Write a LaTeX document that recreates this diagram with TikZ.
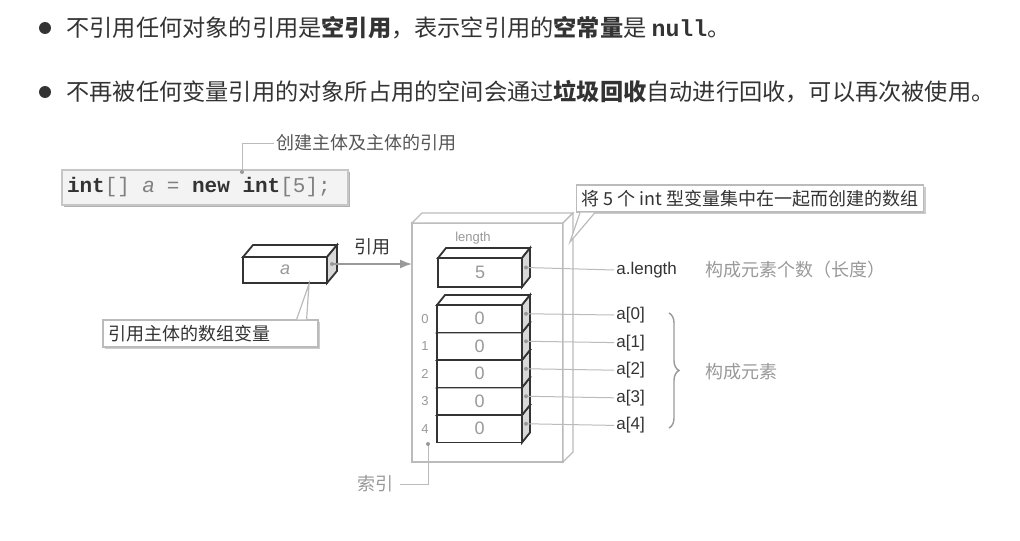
\documentclass[tikz,border=0pt]{standalone}
\usepackage{fontspec}
\setsansfont{Liberation Sans}
\setmonofont{Liberation Mono}
\newfontfamily\cjk{Noto Sans CJK SC}
\usetikzlibrary{arrows.meta,decorations.pathreplacing,shadows}

\definecolor{inkdark}{HTML}{333333}
\definecolor{inkmid}{HTML}{555555}
\definecolor{inkgray}{HTML}{999999}
\definecolor{leadgray}{HTML}{BBBBBB}
\definecolor{sidegray}{HTML}{D8D8D8}
\definecolor{codefill}{HTML}{F3F3F3}

% top and right faces of a box node: node, dx, dy, line style, side fill
\newcommand{\boxfaces}[5]{%
  \draw[#4] (#1.north west) -- ++(#2,-#3) -- ([shift={(#2,-#3)}]#1.north east) -- (#1.north east) -- cycle;
  \draw[#4, fill=#5] (#1.north east) -- ++(#2,-#3) -- ([shift={(#2,-#3)}]#1.south east) -- (#1.south east) -- cycle;
}
\newcommand{\ttsp}{\hspace{0.6em}}

\begin{document}
\begin{tikzpicture}[x=0.5pt, y=-0.5pt,
    boxline/.style={draw=inkdark, line width=0.9pt, fill=white},
    cube/.style={boxline, inner sep=0pt, outer sep=0pt, font=\sffamily\fontsize{9}{10}\selectfont, text=inkgray},
    idx/.style={font=\sffamily\fontsize{6.5}{7}\selectfont, text=inkgray},
    lab/.style={font=\sffamily\fontsize{8.5}{10}\selectfont, text=inkdark, anchor=west, inner sep=1pt},
    note/.style={font=\cjk\fontsize{9}{11}\selectfont, text=inkgray, anchor=west, inner sep=1pt},
    bultext/.style={font=\cjk\fontsize{11.6}{14}\selectfont, text=inkdark, anchor=west, inner sep=0pt},
    callout/.style={draw=leadgray, fill=white, line width=0.6pt, font=\cjk\fontsize{9}{11}\selectfont, text=inkdark, inner sep=2.5pt,
      drop shadow={shadow xshift=1.2pt, shadow yshift=-1.2pt, fill=gray!40, opacity=1}},
    leader/.style={draw=leadgray, line width=0.5pt},
    bullet/.style={circle, fill=inkdark, inner sep=0pt, minimum size=6pt}]
  \useasboundingbox (0,0) rectangle (1020,540);

  % bullet points
  \node[bullet] (b1) at (45,28) {};
  \node[bultext] (t1) at (66,28) {不引用任何对象的引用是\textbf{空引用}，表示空引用的\textbf{空常量}是 {\ttfamily\bfseries null}。};
  \node[bullet] (b2) at (45,92) {};
  \node[bultext] (t2) at (66,92) {不再被任何变量引用的对象所占用的空间会通过\textbf{垃圾回收}自动进行回收，可以再次被使用。};

  % declaration
  \node[draw=gray!45, fill=codefill, line width=0.6pt, minimum width=143pt, minimum height=17.5pt, text width=138pt, align=left, inner sep=2.5pt,
    drop shadow={shadow xshift=1pt, shadow yshift=-1pt, fill=gray!60, opacity=1}] (code) at (205,187.5)
    {\ttfamily\fontsize{10.5}{12}\selectfont\textcolor{inkdark}{\textbf{int}}\textcolor{gray}{[]}\ttsp\textcolor{gray}{\sffamily\itshape a}\ttsp\textcolor{gray}{=}\ttsp\textcolor{inkdark}{\textbf{new}}\ttsp\textcolor{inkdark}{\textbf{int}}\textcolor{gray}{[5];}};
  \coordinate (newdot) at (242,172);
  \node[note, text=inkmid] (mklab) at (274,143) {创建主体及主体的引用};
  \draw[leader] (newdot) |- (mklab.west);
  \fill[inkgray] (newdot) circle (1pt);

  % variable a
  \node[cube, minimum width=42pt, minimum height=13pt] (avar) at (285,270) {\itshape a};
  \boxfaces{avar}{10}{12}{boxline}{sidegray}
  \coordinate (aside) at ([shift={(5,-6)}]avar.east);

  % array object
  \node[draw=leadgray, fill=white, line width=0.6pt, inner sep=0pt, outer sep=0pt, minimum width=75.5pt, minimum height=119.5pt] (arr) at (487.5,342.5) {};
  \boxfaces{arr}{10}{10}{draw=leadgray, line width=0.6pt, fill=white}{white}

  \draw[draw=inkgray, line width=0.8pt, -{Latex[length=6pt,width=4.5pt]}] (aside) -- (aside -| arr.west)
    node[midway, above=1pt, font=\cjk\fontsize{9}{11}\selectfont, text=inkdark] (reflab) {引用};
  \fill[inkgray] (aside) circle (1pt);

  % length field
  \node[idx] (lenlab) at (473,238) {length};
  \node[cube, minimum width=42pt, minimum height=14.5pt] (lenbox) at (480,272.5) {5};
  \boxfaces{lenbox}{8}{10}{boxline}{sidegray}

  % elements, bottom one first
  \foreach \i [evaluate=\i as \yy using 318.75+27.5*\i] in {4,3,2,1,0}{
    \node[cube, minimum width=42.5pt, minimum height=13.75pt] (el\i) at (479.5,\yy) {0};
    \boxfaces{el\i}{8}{10}{boxline}{sidegray}
    \node[idx] (ix\i) at (425,\yy) {\i};
  }

  % names of the fields
  \node[lab] (lenname) at (614,270) {a.length};
  \node[note] (lennote) at (703,270) {构成元素个数（长度）};
  \coordinate (lenside) at ([shift={(4,-5)}]lenbox.east);
  \draw[leader] (lenside) -- (lenname.west);
  \fill[inkgray] (lenside) circle (1pt);
  \foreach \i in {0,...,4}{
    \node[lab] (nm\i) at (614,315+27.6*\i) {a[\i]};
    \coordinate (elside\i) at ([shift={(4,-5)}]el\i.east);
    \draw[leader] (elside\i) -- (nm\i.west);
    \fill[inkgray] (elside\i) circle (1pt);
  }

  % brace
  \coordinate (bt) at (669,313);
  \coordinate (bb) at (669,428);
  \draw[draw=inkgray, line width=0.7pt, decorate, decoration={brace, amplitude=5pt}] (bt) -- (bb);
  \node[note] (elnote) at (703,372) {构成元素};

  % index
  \coordinate (idxdot) at (428,444);
  \node[note, anchor=east, inner sep=3pt] (idxlab) at (400,484) {索引};
  \draw[leader] (idxdot) |- (idxlab.east);
  \fill[inkgray] (idxdot) circle (1pt);

  % callouts
  \node[callout, minimum width=107.5pt, minimum height=13.5pt, text width=102.5pt, align=left] (refnote) at (210.5,333.5) {引用主体的数组变量};
  \coordinate (reftip) at ([xshift=12pt,yshift=-0.5pt]avar.south);
  \draw[draw=leadgray, line width=0.6pt, fill=white] ([xshift=-11pt]refnote.north east) -- (reftip) -- ([xshift=-6pt]refnote.north east);

  \node[callout, minimum width=167pt, minimum height=13.5pt] (arrnote) at (750,198.5) {将 5 个 int 型变量集中在一起而创建的数组};
  \coordinate (arrtip) at ([shift={(7,19)}]arr.north east);
  \draw[draw=leadgray, line width=0.6pt, fill=white] ([xshift=2pt]arrnote.south west) -- (arrtip) -- ([xshift=9.5pt]arrnote.south west);
\end{tikzpicture}
\end{document}
